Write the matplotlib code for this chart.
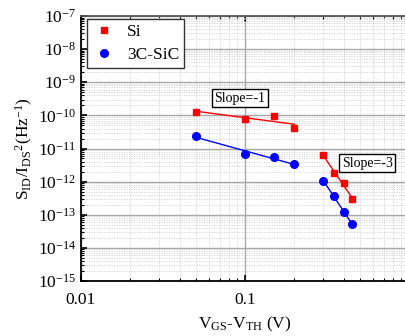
import numpy as np
import matplotlib
matplotlib.use("Agg")
import matplotlib.pyplot as plt
from matplotlib.ticker import LogLocator, LogFormatterMathtext, NullFormatter

plt.rcParams['font.family'] = ['Liberation Serif', 'DejaVu Serif']
plt.rcParams['mathtext.fontset'] = 'custom'
plt.rcParams['mathtext.rm'] = 'Liberation Serif'
plt.rcParams['mathtext.it'] = 'Liberation Serif:italic'
plt.rcParams['mathtext.bf'] = 'Liberation Serif:bold'
plt.rcParams['axes.unicode_minus'] = False

# Data
x_low = [0.05, 0.10, 0.15, 0.20]
si_low = [1.3e-10, 7.7e-11, 9.5e-11, 4.2e-11]
sic_low = [2.4e-11, 6.8e-12, 5.4e-12, 3.4e-12]
x_high = [0.30, 0.35, 0.40, 0.45]
si_high = [6.2e-12, 1.86e-12, 8.8e-13, 3.0e-13]
sic_high = [1.06e-12, 3.6e-13, 1.2e-13, 5.2e-14]
x_tick_labels = {0.01: '0.01', 0.1: '0.1'}

fig = plt.figure(figsize=(4.06, 3.36), dpi=100)
ax = fig.add_axes([81/406, 55/336, 328/406, 265/336])
ax.set_xscale('log')
ax.set_yscale('log')
ax.set_xlim(0.01, 1)
ax.set_ylim(1e-15, 1e-7)

def fitline(x, y, color):
    lx, ly = np.log10(x), np.log10(y)
    p = np.polyfit(lx, ly, 1)
    xs = np.array([lx[0], lx[-1]])
    ax.plot(10**xs, 10**np.polyval(p, xs), color=color, lw=1.0, zorder=3)

fitline(x_low, si_low, 'red')
fitline(x_high, si_high, 'red')
fitline(x_low, sic_low, 'blue')
fitline(x_high, sic_high, 'blue')

ax.plot(x_low + x_high, si_low + si_high, 's', color='red', ms=4.5, ls='none', label='Si', zorder=4)
ax.plot(x_low + x_high, sic_low + sic_high, 'o', color='blue', ms=5.5, ls='none', label='3C-SiC', zorder=4)

# grid
ax.grid(True, which='major', color='#a8a8a8', lw=1.0, ls='-')
ax.grid(True, which='minor', color='#d0d0d0', lw=0.6, ls=(0, (1.5, 1.5)))
ax.set_axisbelow(True)

ax.xaxis.set_major_locator(LogLocator(base=10, numticks=10))
ax.xaxis.set_minor_locator(LogLocator(base=10, subs=np.arange(2, 10), numticks=10))
ax.yaxis.set_major_locator(LogLocator(base=10, numticks=20))
ax.yaxis.set_minor_locator(LogLocator(base=10, subs=np.arange(2, 10), numticks=20))
ax.xaxis.set_minor_formatter(NullFormatter())
ax.yaxis.set_minor_formatter(NullFormatter())
ax.xaxis.set_major_formatter(plt.FuncFormatter(lambda v, p: x_tick_labels.get(round(v, 5), '')))
ax.yaxis.set_major_formatter(LogFormatterMathtext())

ax.tick_params(which='both', direction='in', top=True, right=False, labelsize=12.5)
ax.tick_params(which='major', length=4, width=1.2)
ax.tick_params(which='minor', length=2.5, width=0.8)
ax.tick_params(axis='x', pad=8)
for s in ['left', 'bottom', 'top']:
    ax.spines[s].set_linewidth(1.3)
ax.spines['top'].set_color('#555555')

ax.set_xlabel(r'V$_{\rm GS}$-V$_{\rm TH}$ (V)', fontsize=12.5, labelpad=5)
ax.set_ylabel(r'S$_{\rm ID}$/I$_{\rm DS}$$^{2}$(Hz$^{-1}$)', fontsize=12.5, labelpad=2)

leg = ax.legend(loc='upper left', bbox_to_anchor=(6/328, 1 - 3/265), borderaxespad=0, fontsize=12.5,
                frameon=True, fancybox=False, edgecolor='#333333', framealpha=1,
                handletextpad=0.6, borderpad=0.3, labelspacing=0.35, handlelength=1.4)
leg.get_frame().set_linewidth(1.0)

bbox = dict(boxstyle='square,pad=0.2', fc='white', ec='black', lw=1.0)
ax.text(0.093, 3.3e-10, 'Slope=-1', fontsize=10, ha='center', va='center', bbox=bbox, zorder=5)
ax.text(0.555, 3.6e-12, 'Slope=-3', fontsize=10, ha='center', va='center', bbox=bbox, zorder=5)

fig.savefig('out.png', dpi=100)
